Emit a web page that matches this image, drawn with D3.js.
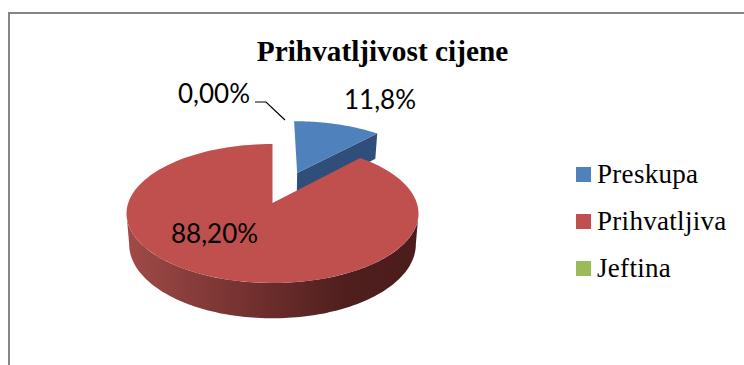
<!DOCTYPE html>
<html><head><meta charset="utf-8">
<script src="https://cdn.jsdelivr.net/npm/d3@7"></script>
<style>html,body{margin:0;padding:0;background:#fff}svg{display:block}</style>
</head><body><div id="c"></div>
<script>
const categories = ["Preskupa", "Prihvatljiva", "Jeftina"];
const values = [11.8, 88.2, 0];
const valueLabels = ["11,8%", "88,20%", "0,00%"];
const colors = ["#4f81bd", "#c0504d", "#9bbb59"];
const titleText = "Prihvatljivost cijene";

const W = 744, H = 365;
const svg = d3.select("#c").append("svg").attr("width", W).attr("height", H);

svg.append("path").attr("d", `M9 ${H} V13 H${W}`)
  .attr("fill", "none").attr("stroke", "#868686").attr("stroke-width", 2);

svg.append("text").attr("x", 382.5).attr("y", 61).attr("text-anchor", "middle")
  .attr("font-family", "Liberation Serif").attr("font-weight", "bold").attr("font-size", 29.3)
  .attr("fill", "#000").text(titleText);

// Perspective view of the pie plane. u = right, v = towards the back, in units of radius.
const ox = 272.5, oy = 203, R = 144.3, A = 67.9, k = 0.151, D = 30;
const proj = (u, v, low) => {
  const w = 1 + k * v, s = low ? 0.982 : 1;
  return [ox + R * u / w * s, oy - A * v / w + (low ? D / w : 0)];
};
const pie = d3.pie().sort(null).value(d => d)(values);
const line = d3.line();
const arcPts = (a0, a1, c, low) => d3.range(0, 121).map(i => {
  const t = a0 + (a1 - a0) * i / 120;
  return proj(c[0] + Math.sin(t), c[1] + Math.cos(t), low);
});

const defs = svg.append("defs");
const g = defs.append("linearGradient").attr("id", "wall")
  .attr("gradientUnits", "userSpaceOnUse").attr("x1", 127).attr("x2", 418).attr("y1", 0).attr("y2", 0);
[[0, "#a04b48"], [0.2, "#8a3e3c"], [0.45, "#6f2f2d"], [0.75, "#4f1f1e"], [1, "#4a1c1b"]]
  .forEach(s => g.append("stop").attr("offset", s[0]).attr("stop-color", s[1]));

// Blue slice, pulled out from the centre
const blue = pie[0], blueC = [0.183, 0.473];
const bTop = proj(blueC[0], blueC[1], false);
const bLow = proj(blueC[0], blueC[1], true);
const bEdge = proj(blueC[0] + Math.sin(blue.endAngle), blueC[1] + Math.cos(blue.endAngle), false);
const bEdgeLow = proj(blueC[0] + Math.sin(blue.endAngle), blueC[1] + Math.cos(blue.endAngle), true);
svg.append("path").attr("d", line([bTop, bEdge, bEdgeLow, bLow]) + "Z").attr("fill", "#2f4e79");
svg.append("path").attr("d", line([bTop, ...arcPts(blue.startAngle, blue.endAngle, blueC, false)]) + "Z").attr("fill", colors[0]);

// Red slice: visible front wall, then top face
const red = pie[1], redC = [0, 0];
const aL = Math.PI - Math.acos(k), aR = Math.PI + Math.acos(k);
const wallTop = arcPts(aL, aR, redC, false), wallLow = arcPts(aL, aR, redC, true).reverse();
svg.append("path").attr("d", line([...wallTop, ...wallLow]) + "Z").attr("fill", "url(#wall)");
svg.append("path").attr("d", line([proj(0, 0, false), ...arcPts(red.startAngle, red.endAngle, redC, false)]) + "Z").attr("fill", colors[1]);

// Labels
const lab = svg.append("g").attr("font-family", "Lato").attr("font-size", 26).attr("fill", "#000");
lab.append("text").attr("x", 344).attr("y", 109).text(valueLabels[0]);
lab.append("text").attr("x", 171).attr("y", 243).text(valueLabels[1]);
lab.append("text").attr("x", 178).attr("y", 103).text(valueLabels[2]);
svg.append("path").attr("d", "M255 102 H266 L285 120").attr("fill", "none").attr("stroke", "#000").attr("stroke-width", 1.2);

// Legend
const rowY = d3.scalePoint().domain(categories).range([175, 269]);
const leg = svg.append("g").selectAll("g").data(categories).join("g");
leg.append("rect").attr("x", 576).attr("y", d => rowY(d) - 8).attr("width", 15).attr("height", 15)
  .attr("fill", (d, i) => colors[i]);
leg.append("text").attr("x", 597).attr("y", d => rowY(d) + 7.5)
  .attr("font-family", "Liberation Serif").attr("font-size", 27).attr("letter-spacing", 0.3)
  .attr("fill", "#000").text(d => d);
</script></body></html>
